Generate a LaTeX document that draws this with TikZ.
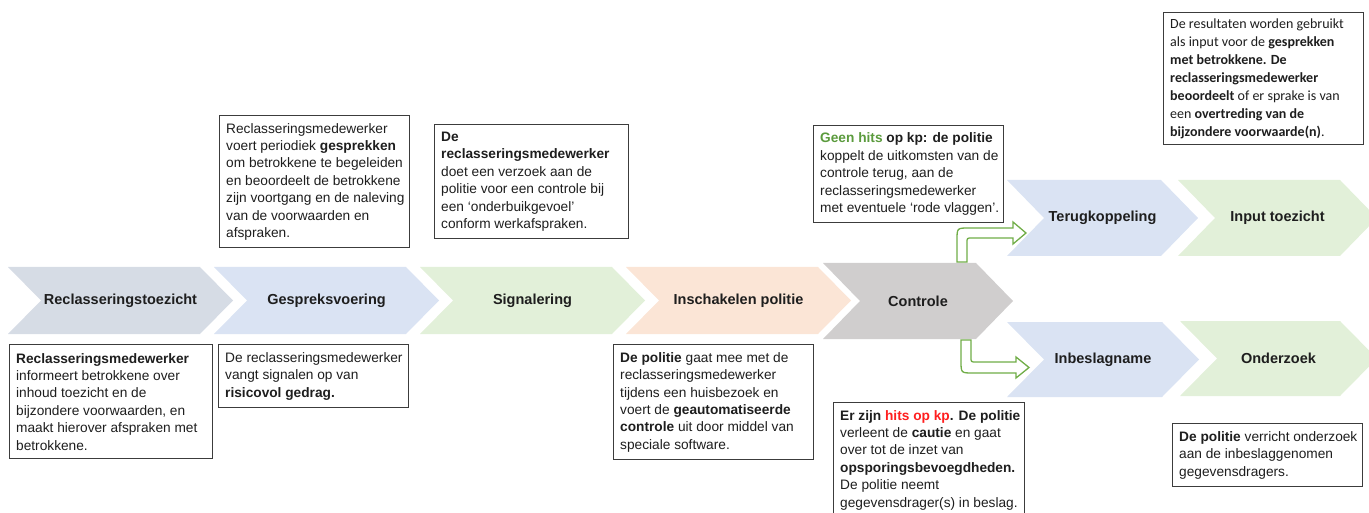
\documentclass[tikz,border=0pt]{standalone}
\usepackage{fontspec}
\setmainfont{Liberation Sans}
\newfontfamily\calfont{Carlito}
\definecolor{cReclass}{HTML}{D6DCE5}
\definecolor{cBlue}{HTML}{DAE3F3}
\definecolor{cGreen}{HTML}{E2F0D9}
\definecolor{cPeach}{HTML}{FBE5D6}
\definecolor{cGray}{HTML}{D0CECE}
\definecolor{txt}{HTML}{1E1E1E}
\definecolor{frame}{HTML}{3C3C3C}
\definecolor{arrowgreen}{HTML}{70AD47}
\definecolor{hitgreen}{HTML}{5B9B3D}
\definecolor{hitred}{HTML}{FF1F1F}
\tikzset{
  chevtext/.style={font=\fontsize{14.5}{17}\selectfont\bfseries, text=txt, inner sep=0pt},
  frame/.style={draw=frame, line width=1.4pt, fill=white, anchor=north west, inner sep=0pt},
  btxt/.style={anchor=west, align=left, inner sep=0pt, text=txt, font=\fontsize{13.7}{17.4}\selectfont},
  ctxt/.style={anchor=west, align=left, inner sep=0pt, text=txt, font=\calfont\fontsize{14}{18}\selectfont},
  blockarrow/.style={draw=arrowgreen, fill=white, line width=1.3pt, line join=miter}
}
% name, x1, x2, y1, y2, depth, colour, text
\newcommand\chevshape[8]{%
  \fill[#7] (#2,#4) -- ({#3-#6},#4) -- (#3,{(#4+#5)/2}) -- ({#3-#6},#5) -- (#2,#5) -- ({#2+#6},{(#4+#5)/2}) -- cycle;
  \node[chevtext] (#1) at ({(#2+#3)/2},{(#4+#5)/2}) {#8};
}
\begin{document}
\begin{tikzpicture}[x=1pt,y=-1pt]
\useasboundingbox (0,0) rectangle (1369,513);

% main process chevrons
\chevshape{c1}{8}{233}{267}{334}{33}{cReclass}{Reclasseringstoezicht}
\chevshape{c2}{214}{439}{267}{334}{33}{cBlue}{Gespreksvoering}
\chevshape{c3}{420}{645}{267}{334}{33}{cGreen}{Signalering}
\chevshape{c4}{626}{851}{267}{334}{33}{cPeach}{Inschakelen politie}
\chevshape{c5}{823}{1013}{263}{339}{37}{cGray}{Controle}
\chevshape{c6}{1007}{1198}{180}{256}{37}{cBlue}{Terugkoppeling}
\chevshape{c7}{1178}{1377}{180}{256}{37}{cGreen}{Input toezicht}
\chevshape{c8}{1007}{1199}{322}{397}{37}{cBlue}{Inbeslagname}
\chevshape{c9}{1180}{1377}{321}{396}{37}{cGreen}{Onderzoek}

% green bent block arrows
\draw[blockarrow] (957,262) -- (957,240) .. controls (957,228) .. (969,228) -- (1013,228) -- (1013,222)
  -- (1026,233) -- (1013,244) -- (1013,238) -- (972,238) .. controls (967,238) .. (967,243) -- (967,262) -- cycle;
\draw[blockarrow] (961,340) -- (961,361) .. controls (961,373) .. (973,373) -- (1016,373) -- (1016,378)
  -- (1029,367.5) -- (1016,357) -- (1016,362) -- (976,362) .. controls (971,362) .. (971,357) -- (971,340) -- cycle;

% boxes
\node[frame, minimum width=203pt, minimum height=114pt] (bA) at (9,344) {};
\node[btxt] (tA) at ([xshift=7pt]bA.west) {\textbf{Reclasseringsmedewerker}\\informeert betrokkene over\\inhoud toezicht en de\\bijzondere voorwaarden, en\\maakt hierover afspraken met\\betrokkene.};

\node[frame, minimum width=190pt, minimum height=63pt] (bB) at (218,344) {};
\node[btxt] (tB) at ([xshift=7pt]bB.west) {De reclasseringsmedewerker\\vangt signalen op van\\\textbf{risicovol gedrag.}};

\node[frame, minimum width=190pt, minimum height=132pt] (bC) at (219,115) {};
\node[btxt] (tC) at ([xshift=7pt]bC.west) {Reclasseringsmedewerker\\voert periodiek \textbf{gesprekken}\\om betrokkene te begeleiden\\en beoordeelt de betrokkene\\zijn voortgang en de naleving\\van de voorwaarden en\\afspraken.};

\node[frame, minimum width=194pt, minimum height=114pt] (bD) at (434,124) {};
\node[btxt] (tD) at ([xshift=7pt]bD.west) {\textbf{De}\\\textbf{reclasseringsmedewerker}\\doet een verzoek aan de\\politie voor een controle bij\\een ‘onderbuikgevoel’\\conform werkafspraken.};

\node[frame, minimum width=190pt, minimum height=97pt] (bE) at (813,125) {};
\node[btxt] (tE) at ([xshift=7pt]bE.west) {\textbf{\textcolor{hitgreen}{Geen hits} op kp: de politie}\\koppelt de uitkomsten van de\\controle terug, aan de\\reclasseringsmedewerker\\met eventuele ‘rode vlaggen’.};

\node[frame, minimum width=200pt, minimum height=132pt] (bF) at (1163,12) {};
\node[ctxt] (tF) at ([xshift=7pt]bF.west) {De resultaten worden gebruikt\\als input voor de \textbf{gesprekken}\\\textbf{met betrokkene. De}\\\textbf{reclasseringsmedewerker}\\\textbf{beoordeelt} of er sprake is van\\een \textbf{overtreding van de}\\\textbf{bijzondere voorwaarde(n)}.};

\node[frame, minimum width=200pt, minimum height=115pt] (bG) at (613,344) {};
\node[btxt] (tG) at ([xshift=7pt]bG.west) {\textbf{De politie} gaat mee met de\\reclasseringsmedewerker\\tijdens een huisbezoek en\\voert de \textbf{geautomatiseerde}\\\textbf{controle} uit door middel van\\speciale software.};

\node[frame, minimum width=191pt, minimum height=125pt] (bH) at (833,402) {};
\node[btxt, anchor=north west] (tH) at ([xshift=7pt,yshift=-8pt]bH.north west) {\textbf{Er zijn \textcolor{hitred}{hits op kp}. De politie}\\verleent de \textbf{cautie} en gaat\\over tot de inzet van\\\textbf{opsporingsbevoegdheden.}\\De politie neemt\\gegevensdrager(s) in beslag.};

\node[frame, minimum width=190pt, minimum height=63pt] (bI) at (1172,423) {};
\node[btxt] (tI) at ([xshift=7pt]bI.west) {\textbf{De politie} verricht onderzoek\\aan de inbeslaggenomen\\gegevensdragers.};
\end{tikzpicture}
\end{document}
